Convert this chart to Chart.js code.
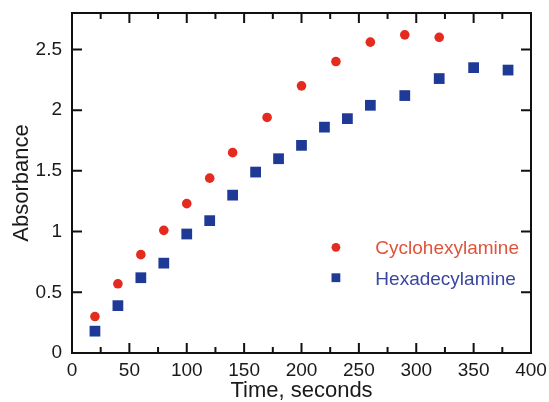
<!DOCTYPE html>
<html><head><meta charset="utf-8">
<script src="https://cdn.jsdelivr.net/npm/chart.js@4/dist/chart.umd.min.js"></script>
<style>html,body{margin:0;padding:0;background:#fff}#wrap{width:549px;height:402px;position:relative}</style>
</head><body><div id="wrap"><canvas id="c" width="549" height="402"></canvas></div>
<script>
// ---- data ----
const cycloTime = [20, 40, 60, 80, 100, 120, 140, 170, 200, 230, 260, 290, 320];
const cycloAbs  = [0.30, 0.57, 0.81, 1.01, 1.23, 1.44, 1.65, 1.94, 2.20, 2.40, 2.56, 2.62, 2.60];
const hexaTime  = [20, 40, 60, 80, 100, 120, 140, 160, 180, 200, 220, 240, 260, 290, 320, 350, 380];
const hexaAbs   = [0.18, 0.39, 0.62, 0.74, 0.98, 1.09, 1.30, 1.49, 1.60, 1.71, 1.86, 1.93, 2.04, 2.12, 2.26, 2.35, 2.33];
const seriesNames = ['Cyclohexylamine', 'Hexadecylamine'];
const xTickValues = [0, 50, 100, 150, 200, 250, 300, 350, 400];
const xMinorTickValues = [25, 75, 125, 175, 225, 275, 325, 375];
const yTickValues = [0, 0.5, 1, 1.5, 2, 2.5];
const xTitle = 'Time, seconds';
const yTitle = 'Absorbance';

const FONT = '"Liberation Sans", Arial, Helvetica, sans-serif';
const RED = '#e52a1f', RED_TEXT = '#e0533a';
const BLUE = '#1f3a96', BLUE_TEXT = '#3a469e';

const toPts = (xs, ys) => xs.map((x, i) => ({x: x, y: ys[i]}));

const framePlugin = {
  id: 'frame',
  afterDraw(chart) {
    const ctx = chart.ctx, a = chart.chartArea;
    const xs = chart.scales.x, ys = chart.scales.y;
    ctx.save();
    ctx.strokeStyle = '#111';
    ctx.lineWidth = 2;
    ctx.strokeRect(a.left, a.top, a.right - a.left, a.bottom - a.top);
    ctx.beginPath();
    const tick = (v, len) => {
      const px = xs.getPixelForValue(v);
      ctx.moveTo(px, a.bottom); ctx.lineTo(px, a.bottom - len);
      ctx.moveTo(px, a.top); ctx.lineTo(px, a.top + len);
    };
    xTickValues.forEach(v => tick(v, 10));
    xMinorTickValues.forEach(v => tick(v, 6));
    yTickValues.forEach(v => {
      const py = ys.getPixelForValue(v);
      ctx.moveTo(a.left, py); ctx.lineTo(a.left + 10, py);
      ctx.moveTo(a.right, py); ctx.lineTo(a.right - 10, py);
    });
    ctx.stroke();
    ctx.restore();
  }
};

const legendPlugin = {
  id: 'innerLegend',
  afterDraw(chart) {
    const ctx = chart.ctx;
    const xs = chart.scales.x, ys = chart.scales.y;
    const mx = xs.getPixelForValue(230);
    const tx = xs.getPixelForValue(260);
    const rows = [ys.getPixelForValue(0.87), ys.getPixelForValue(0.62)];
    ctx.save();
    ctx.font = '19px ' + FONT;
    ctx.textBaseline = 'alphabetic';
    ctx.fillStyle = RED;
    ctx.beginPath(); ctx.arc(mx, rows[0], 4.4, 0, Math.PI * 2); ctx.fill();
    ctx.fillStyle = RED_TEXT;
    ctx.fillText(seriesNames[0], tx + 5, rows[0] + 6.8);
    ctx.fillStyle = BLUE;
    ctx.fillRect(mx - 4.4, rows[1] - 4.4, 8.8, 8.8);
    ctx.fillStyle = BLUE_TEXT;
    ctx.fillText(seriesNames[1], tx + 5, rows[1] + 6.8);
    ctx.restore();
  }
};

new Chart(document.getElementById('c'), {
  type: 'scatter',
  data: {
    datasets: [
      { label: seriesNames[0], data: toPts(cycloTime, cycloAbs), pointStyle: 'circle', pointRadius: 4.8,
        backgroundColor: RED, borderColor: RED, borderWidth: 0 },
      { label: seriesNames[1], data: toPts(hexaTime, hexaAbs), pointStyle: 'rect', pointRadius: 7.6,
        backgroundColor: BLUE, borderColor: BLUE, borderWidth: 0 }
    ]
  },
  options: {
    responsive: false,
    animation: false,
    devicePixelRatio: 1,
    layout: { padding: { top: 13, right: 18, left: 0, bottom: 0 } },
    plugins: { legend: { display: false }, tooltip: { enabled: false } },
    scales: {
      x: {
        type: 'linear', min: 0, max: 400,
        afterFit(s) { s.height = 49; s.paddingLeft = 0; s.paddingRight = 0; },
        afterBuildTicks(s) { s.ticks = xTickValues.map(v => ({value: v})); },
        grid: { display: false, drawTicks: false },
        border: { display: false },
        ticks: { color: '#1a1a1a', font: { family: FONT, size: 19 }, padding: 6, maxRotation: 0, autoSkip: false },
        title: { display: true, text: xTitle, color: '#1a1a1a', font: { family: FONT, size: 22, lineHeight: 1.0 }, padding: { top: 0, bottom: 0 } }
      },
      y: {
        type: 'linear', min: 0, max: 2.8,
        afterFit(s) { s.width = 72; s.paddingTop = 0; s.paddingBottom = 0; },
        afterBuildTicks(s) { s.ticks = yTickValues.map(v => ({value: v})); },
        grid: { display: false, drawTicks: false },
        border: { display: false },
        ticks: { color: '#1a1a1a', font: { family: FONT, size: 19 }, padding: 10,
                 callback: v => String(v) },
        title: { display: true, text: yTitle, color: '#1a1a1a', font: { family: FONT, size: 22 }, padding: { top: 9, bottom: 0 } }
      }
    }
  },
  plugins: [framePlugin, legendPlugin]
});
</script>
</body></html>
